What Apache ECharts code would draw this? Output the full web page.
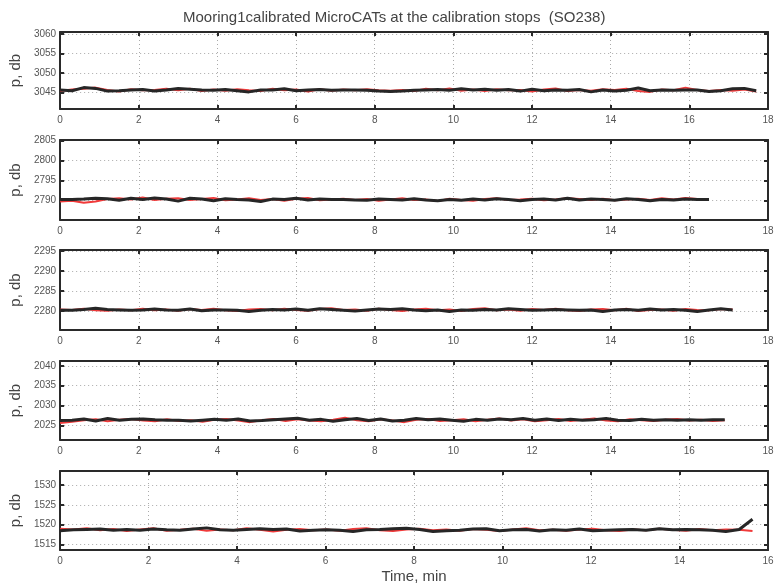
<!DOCTYPE html>
<html>
<head>
<meta charset="utf-8">
<script src="https://cdn.jsdelivr.net/npm/echarts@6/dist/echarts.min.js"></script>
<style>
  html, body { margin: 0; padding: 0; background: #fff; }
  #main { width: 778px; height: 585px; }
</style>
</head>
<body>
<div id="main"></div>
<script>
// 标题和坐标轴文字
let chartTitle = 'Mooring1calibrated MicroCATs at the calibration stops  (SO238)';
let yName = 'p, db';
let xName = 'Time, min';

// 每个面板的 y 轴范围、x 轴最大值、记录结束时间（分钟）
let yMins = [3040.7, 2785.2, 2275.3, 2021.3, 1513.6];
let yMaxs = [3060.5, 2805.1, 2295.2, 2041.2, 1533.6];
let xMaxs = [18, 18, 18, 18, 16];
let endTimes = [17.7, 16.5, 17.1, 16.9, 15.65];

// 面板1 (3045 db)
let p1Black = [3045.6, 3045.4, 3046.2, 3046.0, 3045.3, 3045.4, 3045.6, 3045.7, 3045.3, 3045.6, 3046.0, 3045.8, 3045.6, 3045.5, 3045.7, 3045.4, 3045.1, 3045.6, 3045.6, 3045.9, 3045.4, 3045.6, 3045.7, 3045.5, 3045.6, 3045.6, 3045.5, 3045.3, 3045.2, 3045.3, 3045.5, 3045.6, 3045.7, 3045.5, 3045.9, 3045.6, 3045.8, 3045.5, 3045.7, 3045.3, 3045.8, 3045.4, 3045.6, 3045.5, 3045.7, 3045.1, 3045.6, 3045.3, 3045.5, 3046.1, 3045.4, 3045.6, 3045.5, 3045.6, 3045.6, 3045.2, 3045.4, 3045.9, 3046.0, 3045.4];
let p1Red = [3045.3, 3045.7, 3045.9, 3046.2, 3045.6, 3045.2, 3045.8, 3045.5, 3045.6, 3045.9, 3045.5, 3045.9, 3045.3, 3045.7, 3045.4, 3045.8, 3045.5, 3045.3, 3045.9, 3045.5, 3045.7, 3045.2, 3045.8, 3045.4, 3045.7, 3045.5, 3045.8, 3045.5, 3045.4, 3045.6, 3045.3, 3045.9, 3045.5, 3046.0, 3045.4, 3045.7, 3045.3, 3045.8, 3045.5, 3045.6, 3045.2, 3045.7, 3046.0, 3045.3, 3045.6, 3045.4, 3045.8, 3045.6, 3045.9, 3045.3, 3045.1, 3045.7, 3045.5, 3046.2, 3045.6, 3045.3, 3045.6, 3045.4, 3045.7, 3045.2];

// 面板2 (2790 db)
let p2Black = [2790.3, 2790.3, 2790.4, 2790.6, 2790.5, 2790.1, 2790.6, 2790.3, 2790.7, 2790.4, 2789.9, 2790.6, 2790.4, 2790.0, 2790.5, 2790.3, 2790.2, 2789.8, 2790.4, 2790.3, 2790.6, 2790.2, 2790.4, 2790.3, 2790.3, 2790.2, 2790.1, 2790.4, 2790.3, 2790.2, 2790.5, 2790.2, 2790.0, 2790.3, 2790.1, 2790.4, 2790.2, 2790.5, 2790.3, 2790.0, 2790.3, 2790.4, 2790.2, 2790.6, 2790.2, 2790.4, 2790.3, 2790.1, 2790.5, 2790.3, 2790.0, 2790.3, 2790.2, 2790.4, 2790.3, 2790.3];
let p2Red = [2789.8, 2790.0, 2789.5, 2789.8, 2790.4, 2790.6, 2790.3, 2790.8, 2790.2, 2790.5, 2790.6, 2790.2, 2790.4, 2790.7, 2790.1, 2790.3, 2790.6, 2790.2, 2790.4, 2790.0, 2790.5, 2790.7, 2790.1, 2790.3, 2790.5, 2790.2, 2790.4, 2790.0, 2790.3, 2790.6, 2790.2, 2790.3, 2789.9, 2790.5, 2790.2, 2790.0, 2790.4, 2790.6, 2790.2, 2790.3, 2790.5, 2790.1, 2790.3, 2790.6, 2790.4, 2790.2, 2790.5, 2790.1, 2790.3, 2790.5, 2790.2, 2790.6, 2790.3, 2790.7, 2790.4, 2790.3];

// 面板3 (2280 db)
let p3Black = [2280.2, 2280.2, 2280.4, 2280.7, 2280.4, 2280.3, 2280.2, 2280.3, 2280.5, 2280.3, 2280.2, 2280.5, 2280.1, 2280.3, 2280.3, 2280.2, 2279.9, 2280.2, 2280.4, 2280.3, 2280.5, 2280.2, 2280.6, 2280.4, 2280.2, 2280.0, 2280.3, 2280.5, 2280.4, 2280.6, 2280.3, 2280.1, 2280.3, 2279.9, 2280.3, 2280.2, 2280.4, 2280.3, 2280.6, 2280.4, 2280.2, 2280.3, 2280.4, 2280.3, 2280.2, 2280.3, 2279.9, 2280.3, 2280.4, 2280.2, 2280.5, 2280.3, 2280.4, 2280.2, 2279.9, 2280.3, 2280.6, 2280.3];
let p3Red = [2280.4, 2280.3, 2280.6, 2280.2, 2280.1, 2280.4, 2280.2, 2280.6, 2280.2, 2280.4, 2280.1, 2280.5, 2280.3, 2280.6, 2280.2, 2280.0, 2280.4, 2280.5, 2280.2, 2280.6, 2280.3, 2280.1, 2280.5, 2280.7, 2280.3, 2280.4, 2280.1, 2280.6, 2280.3, 2280.0, 2280.4, 2280.6, 2280.2, 2280.4, 2280.0, 2280.5, 2280.7, 2280.2, 2280.4, 2280.1, 2280.5, 2280.3, 2280.6, 2280.2, 2280.0, 2280.4, 2280.5, 2280.2, 2280.6, 2280.0, 2280.3, 2280.4, 2280.1, 2280.5, 2280.3, 2280.2, 2280.5, 2280.4];

// 面板4 (2026 db)
let p4Black = [2026.2, 2026.3, 2026.6, 2026.1, 2026.7, 2026.3, 2026.5, 2026.6, 2026.4, 2026.3, 2026.3, 2026.1, 2026.3, 2026.5, 2026.3, 2026.6, 2026.1, 2026.2, 2026.4, 2026.6, 2026.8, 2026.3, 2026.5, 2026.0, 2026.4, 2026.7, 2026.2, 2026.6, 2026.1, 2026.3, 2026.7, 2026.4, 2026.6, 2026.3, 2026.0, 2026.5, 2026.3, 2026.6, 2026.4, 2026.7, 2026.3, 2026.6, 2026.2, 2026.5, 2026.3, 2026.4, 2026.7, 2026.3, 2026.2, 2026.5, 2026.3, 2026.4, 2026.3, 2026.4, 2026.3, 2026.4, 2026.4];
let p4Red = [2025.6, 2025.9, 2026.3, 2026.5, 2026.0, 2026.4, 2026.6, 2026.2, 2026.0, 2026.5, 2026.1, 2026.3, 2025.9, 2026.4, 2026.6, 2026.2, 2025.8, 2026.3, 2026.6, 2026.1, 2026.5, 2026.2, 2026.0, 2026.4, 2026.9, 2026.3, 2026.0, 2026.5, 2026.2, 2025.8, 2026.4, 2026.6, 2026.1, 2026.3, 2026.5, 2026.0, 2026.4, 2026.7, 2026.2, 2026.5, 2026.0, 2026.3, 2026.6, 2026.1, 2026.4, 2026.7, 2026.2, 2026.0, 2026.5, 2026.3, 2026.1, 2026.4, 2026.6, 2026.2, 2026.4, 2026.1, 2026.3];

// 面板5 (1519 db)
let p5Black = [1518.5, 1518.7, 1518.8, 1518.9, 1518.6, 1518.8, 1518.6, 1518.9, 1518.7, 1518.6, 1518.9, 1519.2, 1518.7, 1518.6, 1518.8, 1519.0, 1518.8, 1518.9, 1518.4, 1518.6, 1518.7, 1518.6, 1518.3, 1518.7, 1518.8, 1519.0, 1519.1, 1518.8, 1518.3, 1518.5, 1518.6, 1518.9, 1519.0, 1518.5, 1518.7, 1518.8, 1518.4, 1518.7, 1518.6, 1518.9, 1518.5, 1518.6, 1518.7, 1518.8, 1518.6, 1519.0, 1518.7, 1518.8, 1518.7, 1518.6, 1518.3, 1518.8, 1521.4];
let p5Red = [1519.0, 1518.8, 1519.1, 1518.6, 1518.9, 1518.4, 1518.8, 1519.1, 1518.5, 1518.7, 1519.0, 1518.5, 1518.8, 1518.6, 1519.1, 1518.7, 1518.3, 1518.7, 1518.9, 1518.6, 1518.8, 1518.5, 1518.9, 1519.1, 1518.6, 1518.4, 1518.8, 1519.0, 1518.6, 1518.8, 1518.5, 1518.9, 1518.7, 1518.4, 1518.8, 1519.1, 1518.6, 1518.7, 1518.5, 1518.8, 1519.0, 1518.6, 1518.4, 1518.8, 1518.6, 1519.0, 1518.7, 1518.5, 1518.9, 1518.6, 1518.8, 1518.7, 1518.4];

let blackData = [p1Black, p2Black, p3Black, p4Black, p5Black];
let redData = [p1Red, p2Red, p3Red, p4Red, p5Red];

// 布局
let gridTops = [32, 140, 250, 361, 471];
let gridHeights = [77, 80, 80, 79, 79];
let fontFam = '"Liberation Sans", Arial, sans-serif';
let labelColor = '#555';
let frameColor = '#2a2a2a';

// 按结束时间把样本转成 [t, p]
function toPairs(arr, tEnd) {
  let dt = tEnd / (arr.length - 1);
  return arr.map(function (v, i) {
    return [+(i * dt).toFixed(3), v];
  });
}

// 只显示 5 的倍数
function fiveLabel(val) {
  let r = Math.abs(val % 5);
  return (r < 1e-6 || r > 5 - 1e-6) ? String(Math.round(val)) : '';
}

let grids = [], xAxes = [], yAxes = [], series = [];
for (let i = 0; i < 5; i++) {
  grids.push({
    left: 58,
    right: 10,
    top: gridTops[i],
    height: gridHeights[i]
  });
  // 下方 x 轴（带标签）
  xAxes.push({
    type: 'value',
    gridIndex: i,
    min: 0,
    max: xMaxs[i],
    interval: 2,
    position: 'bottom',
    name: i === 4 ? xName : '',
    nameLocation: 'middle',
    nameGap: 19,
    nameTextStyle: { color: '#444', fontSize: 15, fontFamily: fontFam },
    axisLine: { show: true, onZero: false, lineStyle: { color: frameColor, width: 2 } },
    axisTick: { show: true, inside: true, length: 4, lineStyle: { color: frameColor, width: 2 } },
    axisLabel: { color: labelColor, fontSize: 10, fontFamily: fontFam, margin: 6 },
    splitLine: { show: true, lineStyle: { color: '#aaa', type: [1, 3], width: 1 } }
  });
  // 上方 x 轴（仅刻度）
  xAxes.push({
    type: 'value',
    gridIndex: i,
    min: 0,
    max: xMaxs[i],
    interval: 2,
    position: 'top',
    axisLine: { show: true, onZero: false, lineStyle: { color: frameColor, width: 2 } },
    axisTick: { show: true, inside: true, length: 4, lineStyle: { color: frameColor, width: 2 } },
    axisLabel: { show: false },
    splitLine: { show: false }
  });
  // 左侧 y 轴（不设 interval，让刻度落在 5 的倍数上）
  yAxes.push({
    type: 'value',
    gridIndex: i,
    min: yMins[i],
    max: yMaxs[i],
    splitNumber: 4,
    position: 'left',
    name: yName,
    nameLocation: 'middle',
    nameGap: 32,
    nameRotate: 90,
    nameTextStyle: { color: '#444', fontSize: 15, fontFamily: fontFam },
    axisLine: { show: true, onZero: false, lineStyle: { color: frameColor, width: 2 } },
    axisTick: { show: true, inside: true, length: 4, lineStyle: { color: frameColor, width: 2 } },
    axisLabel: {
      color: labelColor,
      fontSize: 10,
      fontFamily: fontFam,
      margin: 4,
      showMinLabel: false,
      showMaxLabel: false,
      formatter: fiveLabel
    },
    splitLine: { show: true, lineStyle: { color: '#aaa', type: [1, 3], width: 1 } }
  });
  // 右侧 y 轴（仅刻度）
  yAxes.push({
    type: 'value',
    gridIndex: i,
    min: yMins[i],
    max: yMaxs[i],
    splitNumber: 4,
    position: 'right',
    axisLine: { show: true, onZero: false, lineStyle: { color: frameColor, width: 2 } },
    axisTick: { show: true, inside: true, length: 4, lineStyle: { color: frameColor, width: 2 } },
    axisLabel: { show: false },
    splitLine: { show: false }
  });

  series.push({
    name: 'red' + i,
    type: 'line',
    xAxisIndex: 2 * i,
    yAxisIndex: 2 * i,
    showSymbol: false,
    silent: true,
    data: toPairs(redData[i], endTimes[i]),
    lineStyle: { color: '#f03a3a', width: 2 },
    z: 2
  });
  series.push({
    name: 'black' + i,
    type: 'line',
    xAxisIndex: 2 * i,
    yAxisIndex: 2 * i,
    showSymbol: false,
    silent: true,
    data: toPairs(blackData[i], endTimes[i]),
    lineStyle: { color: '#262626', width: 3 },
    z: 3
  });
}

let Chart = echarts.init(document.getElementById('main'), null, { renderer: 'canvas' });
Chart.setOption({
  animation: false,
  backgroundColor: '#fff',
  graphic: [{
    type: 'text',
    left: 413 - 230,
    top: 10,
    style: {
      text: chartTitle,
      fill: '#444',
      fontSize: 15,
      fontFamily: fontFam,
      width: 460,
      align: 'center'
    }
  }],
  grid: grids,
  xAxis: xAxes,
  yAxis: yAxes,
  series: series
});
</script>
</body>
</html>
